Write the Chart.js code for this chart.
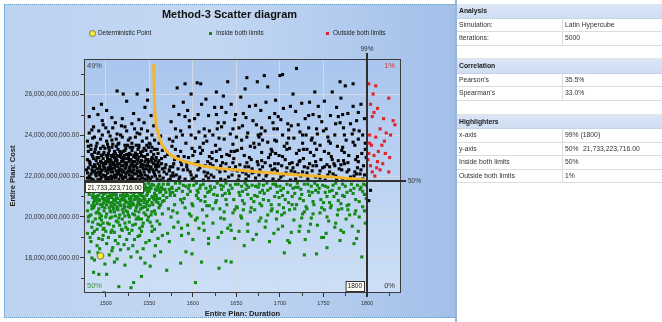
<!DOCTYPE html>
<html><head><meta charset="utf-8">
<script src="https://cdn.jsdelivr.net/npm/chart.js@4.4.1/dist/chart.umd.min.js"></script>
<style>
html,body{margin:0;padding:0;width:662px;height:322px;overflow:hidden;background:#fff;font-family:'Liberation Sans',Arial,sans-serif;}
#panel{position:absolute;left:4px;top:4px;width:451px;height:314px;background:linear-gradient(to right,#bcd2f1 0%,#c4d8f3 45%,#a3c0ea 100%);border-top:1px dotted #5f9fc6;border-left:1px dotted #5f9fc6;border-bottom:1px dotted #5f9fc6;box-sizing:border-box;}
#sep{position:absolute;left:455px;top:0;width:2px;height:322px;background:#9fb4d2;}
#chartBox{position:absolute;left:0;top:0;width:451px;height:322px;}
#title{position:absolute;left:4px;width:451px;top:8px;text-align:center;font-weight:bold;font-size:11px;line-height:13px;color:#111;}
.lt{position:absolute;top:29px;font-size:6.4px;line-height:8px;color:#222;white-space:nowrap;}
.mk{position:absolute;box-sizing:border-box;}
#tbl{position:absolute;left:457px;top:4px;width:205px;}
.row{position:absolute;left:0;width:205px;box-sizing:border-box;border-bottom:1px solid #dcdcdc;font-size:6.8px;color:#333;}
.row.h{background:linear-gradient(#dbe6f6,#cfdef3);font-weight:bold;color:#1b1b1b;border-bottom:1px solid #c5d3e8;}
.row span{position:absolute;top:0;white-space:nowrap;}
.row .c1{left:2px;}
.row .c2{left:108px;}
.row .c3{left:126px;}
.row .dv{position:absolute;left:105px;top:0;bottom:0;width:1px;background:#dcdcdc;}
</style></head>
<body>
<div id="panel"></div>
<div id="sep"></div>
<div id="chartBox"><canvas id="c"></canvas></div>
<div id="title"></div>
<div class="mk" style="left:89px;top:30px;width:7px;height:7px;border-radius:50%;background:#f4ef3c;border:1px solid #7a7a4a;"></div>
<div class="lt" id="lg0" style="left:98px;"></div>
<div class="mk" style="left:209px;top:32px;width:3px;height:3px;background:#138a13;"></div>
<div class="lt" id="lg1" style="left:216px;"></div>
<div class="mk" style="left:326px;top:32px;width:3px;height:3px;background:#e0242a;"></div>
<div class="lt" id="lg2" style="left:333px;"></div>
<div id="tbl"></div>
<script>
// ---------- chart text ----------
const chartTitle = 'Method-3  Scatter diagram';
const legendLabels = ['Deterministic Point', 'Inside both limits', 'Outside both limits'];
const xAxisTitle = 'Entire Plan: Duration';
const yAxisTitle = 'Entire Plan: Cost';

// ---------- axes ----------
const xRange = [1475, 1839];
const yRange = [16.29, 27.71];           // cost, billions
const xTickVals = [1500, 1550, 1600, 1650, 1700, 1750, 1800];
const xMinorTicks = [1525, 1575, 1625, 1675, 1725, 1775, 1825];
const yTickVals = [18, 20, 22, 24, 26];
const yMinorTicks = [17, 19, 21, 23, 25, 27];

// ---------- highlighter limits ----------
const limitX = 1800;                     // 99%
const limitY = 21.733223716;             // 50% (billions)
const limitYLabel = '21,733,223,716.00';
const limitXLabel = '1800';
const quadrantLabels = ['49%', '1%', '50%', '0%'];
const limitPctX = '99%';
const limitPctY = '50%';

// ---------- deterministic point ----------
const deterministicPt = [[1494, 18.1]];

// ---------- highlighter curve ----------
const curvePts = [[1555,27.45],[1555.5,26.5],[1556,25.5],[1557,24.8],[1560,24.1],[1565,23.5],[1574,23.05],[1588,22.75],[1605,22.55],[1625,22.4],[1654,22.28],[1690,22.15],[1730,22.03],[1769,21.92],[1800,21.8]];

// ---------- scatter: outside one limit (black) ----------
const blackPts = [
[1479,21.9],[1483,22.1],[1486,21.8],[1489,22.0],[1492,22.2],[1494,21.85],[1497,22.05],[1499,21.95],[1502,22.15],[1504,21.8],[1506,22.0],[1508,22.2],[1511,21.9],[1513,22.1],[1515,21.85],[1517,22.0],[1519,22.2],[1521,21.95],[1523,22.1],[1525,21.8],[1527,22.05],[1529,22.2],[1531,21.9],[1533,22.1],[1535,21.85],[1537,22.0],[1540,22.15],[1542,21.9],[1545,22.05],[1547,21.8],[1550,22.2],[1553,21.95],[1556,22.1],[1559,21.85],[1562,22.0],[1566,21.9],[1570,22.1],[1574,21.85],[1578,22.0],[1501,21.85],[1510,22.05],[1520,21.8],[1530,22.0],[1538,22.2],[1548,22.0],
[1480,22.4],[1484,22.3],[1487,22.55],[1490,22.35],[1493,22.5],[1495,22.25],[1498,22.45],[1500,22.6],[1503,22.3],[1505,22.5],[1507,22.35],[1509,22.55],[1512,22.25],[1514,22.45],[1516,22.6],[1518,22.3],[1520,22.5],[1522,22.35],[1524,22.55],[1526,22.25],[1528,22.45],[1530,22.6],[1532,22.3],[1534,22.5],[1536,22.4],[1539,22.25],[1541,22.55],[1543,22.35],[1546,22.5],[1549,22.3],[1552,22.45],[1555,22.6],[1558,22.3],[1561,22.5],[1565,22.35],[1569,22.55],[1573,22.3],[1577,22.45],[1488,22.45],[1511,22.5],
[1479,22.8],[1482,22.65],[1485,22.95],[1489,22.75],[1492,22.9],[1495,22.65],[1497,22.85],[1500,22.7],[1502,22.95],[1505,22.8],[1508,22.65],[1510,22.9],[1513,22.75],[1516,22.95],[1518,22.7],[1521,22.85],[1524,22.65],[1526,22.95],[1529,22.8],[1531,22.7],[1534,22.9],[1537,22.75],[1540,22.65],[1543,22.95],[1546,22.8],[1549,22.7],[1553,22.9],[1557,22.75],[1560,22.65],[1564,22.85],[1568,22.95],[1506,22.75],[1519,22.8],[1532,22.95],[1545,22.7],
[1480,23.2],[1484,23.05],[1488,23.3],[1491,23.1],[1494,23.35],[1498,23.15],[1501,23.0],[1504,23.25],[1507,23.4],[1511,23.1],[1514,23.3],[1517,23.05],[1520,23.2],[1523,23.35],[1527,23.1],[1530,23.25],[1533,23.0],[1537,23.3],[1540,23.15],[1544,23.35],[1548,23.05],[1552,23.2],[1556,23.3],[1560,23.1],[1565,23.25],[1503,23.1],[1516,23.2],[1528,23.4],
[1479,23.7],[1483,23.5],[1487,23.9],[1490,23.6],[1494,23.8],[1497,23.45],[1501,23.7],[1505,23.95],[1508,23.55],[1512,23.8],[1515,23.6],[1519,23.9],[1522,23.5],[1526,23.75],[1530,23.6],[1534,23.9],[1538,23.5],[1542,23.7],[1547,23.85],[1551,23.55],[1556,23.75],[1561,23.6],
[1481,24.1],[1486,24.4],[1492,24.2],[1497,24.5],[1503,24.15],[1508,24.35],[1513,24.05],[1518,24.45],[1524,24.2],[1530,24.55],[1536,24.1],[1541,24.3],[1548,24.2],[1555,24.45],
[1481,24.9],[1486,25.3],[1491,25.0],[1495,25.5],[1501,25.2],[1496,24.7],[1513,26.15],[1520,26.0],[1524,25.65],[1536,26.0],[1519,24.8],[1532,25.05],[1538,24.75],[1545,25.35],[1552,24.95],[1507,24.85],[1548,25.7],
[1481,21.98],[1485,22.2],[1491,21.82],[1496,22.3],[1500,22.02],[1503,22.4],[1507,21.88],[1509,22.62],[1512,22.0],[1516,22.35],[1519,21.9],[1522,22.62],[1525,22.18],[1528,21.88],[1532,22.45],[1535,22.12],[1539,21.82],[1541,22.75],[1544,22.2],[1548,22.55],[1551,21.85],[1554,22.3],[1557,22.0],[1560,22.45],[1563,21.8],[1567,22.2],[1482,22.55],[1486,22.85],[1490,22.15],[1494,22.72],[1499,22.38],[1502,22.82],[1506,22.2],[1511,22.75],[1514,22.15],[1518,22.9],[1523,22.42],[1527,22.72],[1531,22.18],[1536,22.82],[1540,22.45],[1545,22.95],[1549,22.48],[1553,22.68],[1497,23.05],[1510,23.2],[1521,23.0],[1534,23.12],[1546,23.25],[1558,22.9],[1489,23.45],[1502,23.55],[1513,23.0],[1525,23.5],[1538,23.4],[1550,23.6],[1493,22.05],[1505,22.6],[1517,22.25],[1529,22.55],
[1478,22.3],[1481,22.72],[1484,21.85],[1487,22.25],[1490,22.9],[1493,22.38],[1495,21.95],[1498,22.62],[1500,22.25],[1503,21.92],[1505,22.35],[1507,22.95],[1510,22.38],[1513,22.6],[1515,22.28],[1518,22.05],[1520,22.72],[1523,21.95],[1526,22.85],[1528,22.3],[1531,22.55],[1533,21.82],[1536,22.25],[1538,22.92],[1541,22.05],[1543,22.55],[1546,22.35],[1549,21.92],[1552,22.8],[1555,22.2],[1558,22.55],[1561,22.2],[1564,22.6],[1568,22.4],[1483,23.3],[1492,23.15],[1499,23.35],[1506,23.0],[1512,23.45],[1518,23.15],[1524,23.05],[1531,23.4],[1536,23.05],[1542,23.2],[1549,23.4],[1555,23.05],[1485,23.85],[1496,24.0],[1507,23.75],[1517,24.0],[1528,23.85],[1539,24.05],[1553,24.0],[1563,23.95],
[1479,22.15],[1482,21.9],[1485,22.45],[1488,22.1],[1491,22.6],[1494,22.15],[1497,22.5],[1500,21.8],[1503,22.7],[1506,22.45],[1509,21.95],[1512,22.85],[1515,22.1],[1518,22.5],[1521,22.2],[1524,22.85],[1527,22.4],[1530,21.85],[1533,22.7],[1536,22.6],[1539,22.0],[1542,22.45],[1545,21.85],[1548,22.8],[1551,22.35],[1554,22.85],[1557,22.45],[1561,22.75],[1480,23.45],[1487,23.15],[1495,23.0],[1503,23.4],[1509,23.05],[1514,23.55],[1522,23.25],[1529,23.05],[1535,23.5],[1541,23.0],[1547,23.5],[1553,23.4],[1559,23.3],[1484,24.25],[1500,24.35],[1511,24.6],[1522,24.4],[1533,24.3],[1544,24.6],
[1572,21.8],[1585,21.95],[1577,22.15],[1589,22.3],[1574,22.45],[1581,22.05],[1587,22.55],[1579,22.8],[1571,23.05],[1586,23.2],[1576,23.45],[1583,22.95],[1573,23.8],[1588,24.0],[1580,24.3],[1575,24.65],[1584,25.0],[1578,25.4],[1582,26.3],[1586,24.2],
[1591,21.85],[1604,22.0],[1597,22.2],[1608,22.4],[1593,22.6],[1601,21.9],[1606,22.7],[1595,22.9],[1609,23.1],[1599,23.35],[1592,23.6],[1603,23.85],[1607,24.15],[1596,24.4],[1602,24.8],[1594,25.2],[1610,25.5],[1598,26.0],[1605,26.55],[1600,23.0],
[1612,21.8],[1624,21.95],[1617,22.15],[1628,22.35],[1614,22.5],[1621,22.05],[1627,22.75],[1619,22.95],[1611,23.25],[1626,23.5],[1616,23.7],[1623,24.0],[1613,24.3],[1629,24.6],[1618,24.95],[1625,25.35],[1615,25.75],[1622,23.15],[1620,22.6],[1627,26.1],
[1632,21.85],[1645,22.05],[1637,22.25],[1649,22.45],[1634,22.65],[1641,21.95],[1647,22.85],[1639,23.05],[1631,23.3],[1646,23.55],[1636,23.8],[1643,24.05],[1633,24.4],[1648,24.75],[1638,25.1],[1644,25.5],[1635,25.9],[1640,26.6],[1642,22.4],[1650,23.9],
[1652,21.8],[1664,22.0],[1657,22.2],[1668,22.35],[1654,22.55],[1661,22.1],[1667,22.8],[1659,23.0],[1651,23.25],[1666,23.45],[1656,23.75],[1663,24.1],[1653,24.35],[1669,24.7],[1658,25.05],[1665,25.4],[1655,25.85],[1660,26.25],[1662,22.65],[1670,23.6],
[1672,21.9],[1685,22.1],[1677,22.3],[1689,22.5],[1674,22.7],[1681,21.8],[1687,22.9],[1679,23.15],[1671,23.4],[1686,23.65],[1676,23.9],[1683,24.2],[1673,24.5],[1688,24.85],[1678,25.2],[1684,25.6],[1686,26.35],[1680,22.45],[1675,24.0],[1690,23.3],
[1692,21.85],[1704,22.05],[1697,22.25],[1708,22.4],[1694,22.6],[1701,21.95],[1706,22.8],[1699,23.0],[1691,23.2],[1705,23.45],[1696,23.7],[1703,24.0],[1693,24.3],[1709,24.55],[1698,24.9],[1704,25.3],[1695,25.7],[1700,26.9],[1702,22.5],[1710,23.85],
[1712,21.8],[1724,22.0],[1717,22.2],[1728,22.45],[1714,22.65],[1721,22.1],[1727,22.85],[1719,23.1],[1711,23.35],[1726,23.6],[1716,23.85],[1723,24.15],[1713,24.45],[1729,24.8],[1718,25.15],[1725,25.55],[1715,26.0],[1720,22.55],[1722,23.25],[1730,24.0],
[1732,21.85],[1745,22.05],[1737,22.25],[1749,22.4],[1734,22.6],[1741,21.95],[1747,22.8],[1739,23.0],[1731,23.3],[1746,23.5],[1736,23.75],[1743,24.05],[1733,24.35],[1748,24.65],[1738,25.0],[1744,25.4],[1740,26.1],[1742,22.5],[1735,23.15],[1750,24.2],
[1752,21.8],[1764,22.0],[1757,22.2],[1768,22.35],[1754,22.55],[1761,22.1],[1767,22.75],[1759,22.95],[1751,23.2],[1766,23.45],[1756,23.7],[1763,24.0],[1753,24.3],[1769,24.6],[1758,24.95],[1765,25.35],[1760,26.1],[1762,22.6],[1755,23.9],[1770,25.8],
[1772,21.85],[1785,22.0],[1777,22.2],[1789,22.4],[1774,22.6],[1781,21.95],[1787,22.8],[1779,23.0],[1771,23.25],[1786,23.5],[1776,23.75],[1783,24.05],[1773,24.35],[1788,24.7],[1778,25.05],[1784,25.4],[1775,26.4],[1792,22.1],[1796,22.5],[1794,23.1],[1798,23.6],[1791,24.2],[1797,24.8],[1793,25.5],[1799,22.9],[1795,21.85],
[1575,22.0],[1583,22.35],[1593,22.45],[1598,22.05],[1606,22.3],[1615,22.0],[1623,22.5],[1631,22.2],[1638,22.6],[1646,22.3],[1653,22.0],[1660,22.45],[1668,22.15],[1676,22.05],[1683,22.65],[1691,22.3],[1698,22.6],[1707,22.15],[1715,22.4],[1723,22.75],[1731,22.15],[1738,22.5],[1746,22.25],[1755,22.05],[1763,22.5],[1771,22.3],[1778,22.65],[1786,22.2],[1790,22.7],[1797,22.05],[1580,23.3],[1612,23.6],[1644,23.2],[1676,23.55],[1708,23.3],[1740,23.6],[1772,23.4],[1795,24.0],[1628,24.3],[1692,24.6],
[1573,22.25],[1578,22.6],[1584,21.85],[1590,22.95],[1594,22.3],[1599,21.85],[1603,22.6],[1608,23.4],[1613,22.2],[1618,21.9],[1622,22.85],[1627,23.2],[1632,22.5],[1637,21.8],[1642,23.0],[1646,22.65],[1651,22.25],[1656,23.35],[1661,21.85],[1665,22.9],[1670,22.2],[1675,22.55],[1680,23.75],[1684,22.0],[1689,23.05],[1694,22.35],[1699,21.8],[1703,22.95],[1708,23.6],[1713,22.25],[1718,21.85],[1722,22.7],[1727,23.3],[1732,22.4],[1737,23.85],[1741,22.7],[1746,21.9],[1751,22.45],[1756,23.1],[1760,22.8],[1765,21.85],[1770,22.55],[1774,23.15],[1779,22.3],[1784,23.65],[1789,22.95],[1793,22.3],[1798,23.3],[1577,23.7],[1596,24.7],[1619,24.2],[1636,24.6],[1657,24.45],[1679,24.35],[1701,24.75],[1721,24.5],[1745,24.9],[1764,24.55],[1781,24.55],[1589,25.6],[1633,25.35],[1672,25.45],[1712,25.4],[1751,25.65],[1790,25.1],[1606,25.0],[1649,25.0],[1694,25.05],[1734,25.6],[1772,25.0],
[1586,22.7],[1602,23.2],[1617,22.7],[1633,22.95],[1648,23.2],[1664,22.45],[1679,22.75],[1695,23.1],[1711,22.6],[1726,22.2],[1742,23.3],[1757,22.45],[1773,22.75],[1788,22.1],[1581,23.9],[1598,24.0],[1614,23.95],[1630,23.85],[1646,24.3],[1662,23.9],[1678,24.05],[1694,23.75],[1710,24.25],[1726,24.0],[1742,24.3],[1758,23.6],[1774,24.0],[1790,23.8],[1591,24.9],[1627,25.0],[1661,24.85],[1697,24.3],[1733,24.95],[1767,24.9],[1785,24.25],
[1591,26.5],[1609,26.5],[1662,26.8],[1682,26.9],[1703,26.95],[1719,27.25],[1769,26.6],[1784,26.5],[1674,26.6],[1548,26.2],
[1804,21.3],[1802,20.8]
];

// ---------- scatter: inside both limits (green) ----------
const greenPts = [
[1480,21.5],[1484,21.35],[1487,21.65],[1490,21.45],[1493,21.6],[1496,21.3],[1498,21.55],[1501,21.4],[1503,21.65],[1506,21.35],[1508,21.5],[1511,21.6],[1513,21.3],[1516,21.45],[1518,21.65],[1521,21.4],[1523,21.55],[1526,21.3],[1528,21.6],[1531,21.45],[1533,21.65],[1536,21.35],[1538,21.5],[1541,21.6],[1543,21.3],[1546,21.45],[1549,21.65],[1552,21.4],[1555,21.55],[1558,21.3],[1561,21.6],[1564,21.45],[1568,21.35],[1572,21.6],[1576,21.4],[1500,21.5],[1515,21.55],[1530,21.35],[1545,21.6],[1560,21.5],
[1481,21.1],[1485,20.95],[1488,21.25],[1491,21.05],[1494,21.2],[1497,20.9],[1499,21.15],[1502,21.0],[1504,21.25],[1507,20.95],[1509,21.1],[1512,21.2],[1514,20.9],[1517,21.05],[1519,21.25],[1522,21.0],[1524,21.15],[1527,20.9],[1529,21.2],[1532,21.05],[1534,21.25],[1537,20.95],[1539,21.1],[1542,21.2],[1544,20.9],[1547,21.05],[1550,21.25],[1553,21.0],[1556,21.15],[1559,20.9],[1562,21.2],[1566,21.05],[1570,20.95],[1574,21.2],[1505,21.1],[1520,21.1],[1535,21.0],[1548,21.15],[1490,20.95],[1525,21.25],
[1480,20.7],[1484,20.55],[1487,20.85],[1490,20.65],[1493,20.8],[1496,20.5],[1498,20.75],[1501,20.6],[1503,20.85],[1506,20.55],[1508,20.7],[1511,20.8],[1513,20.5],[1516,20.65],[1518,20.85],[1521,20.6],[1523,20.75],[1526,20.5],[1528,20.8],[1531,20.65],[1533,20.85],[1536,20.55],[1538,20.7],[1541,20.8],[1544,20.5],[1547,20.65],[1550,20.85],[1554,20.6],[1558,20.75],[1562,20.55],[1567,20.8],[1510,20.6],[1525,20.7],[1540,20.6],[1500,20.8],[1555,20.9],
[1479,20.3],[1483,20.1],[1486,20.45],[1489,20.2],[1492,20.4],[1495,20.05],[1498,20.3],[1501,20.15],[1504,20.45],[1507,20.0],[1510,20.25],[1513,20.4],[1516,20.1],[1519,20.35],[1522,20.05],[1525,20.25],[1528,20.45],[1531,20.15],[1534,20.3],[1537,20.0],[1540,20.4],[1544,20.2],[1548,20.35],[1552,20.1],[1556,20.3],[1561,20.45],[1565,20.15],[1505,20.3],[1520,20.2],[1535,20.45],
[1480,19.8],[1484,19.5],[1488,19.9],[1491,19.65],[1495,19.85],[1498,19.45],[1502,19.7],[1505,19.95],[1509,19.55],[1512,19.8],[1516,19.6],[1519,19.9],[1523,19.5],[1527,19.75],[1531,19.6],[1535,19.9],[1539,19.45],[1543,19.7],[1548,19.85],[1553,19.55],[1559,19.8],[1494,19.6],
[1479,19.2],[1483,18.8],[1487,19.3],[1492,18.95],[1497,19.1],[1501,18.7],[1506,19.25],[1511,18.85],[1516,19.05],[1521,18.65],[1527,19.2],[1533,18.9],[1539,19.1],[1546,18.75],[1553,19.3],[1560,18.95],
[1481,18.3],[1487,17.9],[1493,18.45],[1499,17.7],[1504,18.15],[1510,17.8],[1517,18.4],[1522,17.65],[1529,18.05],[1536,18.3],[1545,17.75],[1556,18.1],
[1501,17.2],[1515,16.6],[1529,16.55],[1532,16.8],[1541,17.1],[1603,16.8],[1486,17.3],[1498,16.3],[1492,17.2],
[1610,17.8],[1630,17.5],[1638,17.85],[1644,17.8],[1705,18.25],[1728,18.15],[1742,18.2],[1754,18.5],[1794,18.05],[1592,18.3],[1599,18.2],[1586,17.75],[1570,17.4],
[1482,21.6],[1486,21.2],[1489,21.55],[1492,20.85],[1495,21.45],[1497,21.1],[1500,21.65],[1502,20.75],[1505,21.4],[1507,21.05],[1510,21.6],[1512,20.9],[1515,21.25],[1517,20.55],[1520,21.5],[1522,20.8],[1525,21.05],[1527,21.6],[1530,20.7],[1532,21.35],[1535,21.55],[1537,20.8],[1540,21.15],[1542,20.45],[1545,21.4],[1548,20.75],[1551,21.5],[1554,20.95],[1557,21.35],[1560,20.7],[1563,21.25],[1566,21.6],[1484,20.4],[1491,20.25],[1499,20.45],[1506,20.25],[1514,20.35],[1523,20.3],[1529,20.55],[1538,20.25],[1546,20.5],[1553,20.25],[1496,20.95],[1509,20.85],[1519,20.95],[1534,20.9],[1543,21.0],[1558,21.05],[1488,21.0],[1503,21.3],
[1479,21.25],[1483,21.65],[1486,20.7],[1489,21.35],[1492,21.05],[1494,20.6],[1497,21.45],[1499,20.9],[1502,21.5],[1504,20.95],[1507,21.6],[1509,20.4],[1512,21.05],[1514,21.6],[1517,20.8],[1519,21.35],[1522,20.5],[1524,21.4],[1527,20.65],[1529,21.0],[1532,20.6],[1534,21.5],[1537,21.2],[1539,20.85],[1542,21.45],[1544,20.7],[1547,21.3],[1550,20.55],[1553,21.6],[1556,20.85],[1559,21.45],[1562,20.9],[1565,21.35],[1569,21.2],[1481,20.05],[1487,20.55],[1493,20.15],[1500,20.0],[1508,20.5],[1515,19.95],[1521,20.45],[1527,20.0],[1533,20.1],[1541,19.9],[1549,20.0],[1557,20.15],[1563,20.6],[1485,19.2],[1497,19.4],[1510,19.25],[1525,19.4],[1541,19.3],
[1480,20.0],[1485,19.75],[1490,19.4],[1493,19.95],[1497,19.7],[1500,19.3],[1504,19.65],[1507,19.35],[1511,20.05],[1514,19.75],[1518,19.4],[1522,19.7],[1526,20.1],[1530,19.35],[1534,19.65],[1538,19.9],[1542,19.55],[1546,20.1],[1551,19.75],[1556,19.4],[1562,19.65],[1482,19.0],[1490,18.6],[1496,18.9],[1503,19.0],[1508,18.5],[1514,18.7],[1519,19.35],[1524,18.9],[1531,18.6],[1537,19.05],[1543,18.45],[1550,18.85],[1557,18.6],[1565,19.1],[1484,18.0],[1491,18.25],[1507,18.35],[1513,17.95],[1526,18.45],[1540,18.0],[1551,17.6],[1563,18.3],[1571,19.2],
[1481,21.4],[1485,21.05],[1489,20.8],[1493,21.3],[1497,20.65],[1501,21.2],[1505,20.7],[1509,21.3],[1513,20.7],[1517,21.55],[1521,20.85],[1525,21.55],[1529,20.85],[1533,21.2],[1537,20.65],[1541,21.05],[1545,20.85],[1549,21.4],[1553,20.7],[1557,21.05],[1561,21.35],[1565,20.75],
[1571,21.6],[1584,21.4],[1577,21.2],[1589,21.55],[1574,21.05],[1581,21.3],[1586,20.85],[1579,20.6],[1572,20.4],[1588,20.7],[1575,20.0],[1583,19.75],[1578,19.5],[1587,19.1],[1573,18.8],[1580,21.65],
[1592,21.5],[1604,21.65],[1597,21.25],[1608,21.4],[1594,21.1],[1601,21.55],[1606,20.9],[1599,20.65],[1591,20.45],[1609,20.8],[1596,20.15],[1603,19.85],[1607,19.45],[1595,19.2],[1600,18.9],[1605,21.3],
[1612,21.6],[1625,21.45],[1617,21.2],[1628,21.65],[1614,21.0],[1621,21.35],[1627,20.8],[1619,20.55],[1611,20.35],[1626,20.7],[1616,20.05],[1623,19.7],[1613,19.35],[1629,19.0],[1618,18.7],[1620,21.5],
[1632,21.55],[1645,21.4],[1637,21.15],[1649,21.6],[1634,21.05],[1641,21.3],[1647,20.85],[1639,20.6],[1631,20.4],[1646,20.2],[1636,19.9],[1643,19.6],[1633,19.25],[1648,18.95],[1638,21.65],[1650,20.5],
[1652,21.6],[1664,21.45],[1657,21.25],[1668,21.55],[1654,21.05],[1661,21.35],[1667,20.9],[1659,20.65],[1651,20.45],[1666,20.25],[1656,19.95],[1663,19.65],[1653,19.3],[1669,18.9],[1660,21.65],[1670,20.75],
[1672,21.5],[1685,21.65],[1677,21.2],[1689,21.4],[1674,21.0],[1681,21.55],[1687,20.8],[1679,20.55],[1671,20.35],[1686,20.1],[1676,19.8],[1683,19.5],[1673,19.15],[1688,18.8],[1680,21.3],[1690,20.6],
[1692,21.6],[1704,21.4],[1697,21.2],[1708,21.6],[1694,21.0],[1701,21.3],[1706,20.85],[1699,20.6],[1691,20.4],[1705,20.2],[1696,19.9],[1703,19.55],[1693,19.2],[1709,18.85],[1700,21.5],[1710,20.7],
[1712,21.55],[1724,21.35],[1717,21.15],[1728,21.6],[1714,21.0],[1721,21.45],[1727,20.8],[1719,20.6],[1711,20.35],[1726,20.15],[1716,19.85],[1723,19.55],[1713,19.25],[1729,18.9],[1720,21.65],[1730,20.5],
[1732,21.6],[1745,21.4],[1737,21.2],[1749,21.55],[1734,21.05],[1741,21.3],[1747,20.85],[1739,20.6],[1731,20.4],[1746,20.2],[1736,19.95],[1743,19.6],[1733,19.3],[1748,19.0],[1740,21.65],[1750,20.7],
[1752,21.5],[1764,21.65],[1757,21.25],[1768,21.4],[1754,21.0],[1761,21.55],[1767,20.8],[1759,20.55],[1751,20.35],[1766,20.1],[1756,19.8],[1763,19.5],[1753,19.2],[1769,18.85],[1760,21.3],[1770,20.65],
[1772,21.6],[1785,21.4],[1777,21.2],[1789,21.55],[1774,21.0],[1781,21.3],[1787,20.85],[1779,20.6],[1771,20.4],[1786,20.15],[1776,19.9],[1783,19.55],[1773,19.25],[1788,18.95],[1793,21.45],[1797,21.1],[1795,20.5],[1791,20.0],[1798,19.7],[1796,21.6],
[1576,21.45],[1588,21.25],[1596,21.55],[1606,21.2],[1615,21.4],[1624,21.1],[1635,21.5],[1642,21.15],[1656,21.5],[1663,21.1],[1675,21.45],[1682,21.15],[1696,21.5],[1703,21.05],[1715,21.4],[1725,21.1],[1736,21.5],[1744,21.2],[1755,21.45],[1765,21.15],[1775,21.5],[1784,21.15],[1792,21.35],[1799,21.55],
[1573,21.35],[1579,21.05],[1585,21.65],[1590,20.9],[1595,21.4],[1600,20.55],[1604,21.05],[1609,21.55],[1614,20.75],[1619,21.25],[1623,20.4],[1628,21.05],[1633,21.35],[1638,20.85],[1643,21.55],[1648,20.35],[1653,21.2],[1657,20.8],[1662,21.55],[1667,20.45],[1671,21.05],[1676,21.6],[1681,20.85],[1686,21.3],[1690,20.3],[1695,21.6],[1699,20.95],[1704,20.45],[1709,21.2],[1714,20.6],[1718,21.45],[1723,20.9],[1728,20.25],[1733,21.25],[1738,20.75],[1743,21.55],[1748,20.45],[1752,21.2],[1757,20.7],[1762,21.0],[1767,20.35],[1772,21.05],[1777,20.55],[1782,21.6],[1787,20.3],[1791,20.75],[1795,21.25],[1799,20.9],[1582,20.2],[1605,19.95],[1632,19.95],[1655,20.05],[1678,19.95],[1702,20.1],[1725,19.95],[1754,20.0],[1780,20.1],[1594,19.6],[1644,19.35],[1684,19.8],[1722,19.3],[1764,19.7],[1790,19.3],
[1577,20.3],[1598,20.05],[1616,20.55],[1636,20.25],[1658,20.35],[1677,20.65],[1697,20.25],[1717,20.4],[1738,20.15],[1758,20.45],[1778,20.35],[1797,20.3],[1587,19.45],[1612,19.7],[1640,19.45],[1663,19.3],[1698,19.4],[1735,19.65],[1770,19.35],[1618,18.95],[1659,18.6],[1711,18.75],[1750,19.0],[1785,18.7]
];

// ---------- scatter: outside both limits (red) ----------
const redPts = [
[1802,26.5],[1810,26.4],[1825,25.8],[1812,25.3],[1808,25.1],[1830,24.7],[1832,24.5],[1806,24.9],[1815,24.3],[1822,24.1],[1803,24.0],[1810,23.9],[1820,23.7],[1817,23.5],[1805,23.5],[1813,23.2],[1802,23.1],[1808,23.0],[1826,22.9],[1812,22.7],[1818,22.6],[1804,22.5],[1815,22.3],[1806,22.2],[1809,22.0],[1825,22.2],[1801,22.8],[1803,23.6],[1819,24.8],[1827,24.0],[1807,26.0],[1804,25.5],[1811,22.4],[1821,23.1]
];

// ---------- statistics table ----------
const tableRows = [
  ['h','Analysis'],
  ['r','Simulation:','Latin Hypercube'],
  ['r','Iterations:','5000'],
  ['b'],
  ['h','Correlation'],
  ['r',"Pearson's",'35.5%'],
  ['r',"Spearman's",'33.0%'],
  ['b'],
  ['h','Highlighters'],
  ['r','x-axis','99% (1800)'],
  ['r','y-axis','50%','21,733,223,716.00'],
  ['r','Inside both limits','50%'],
  ['r','Outside both limits','1%']
];

// ---------- HTML parts ----------
document.getElementById('title').textContent = chartTitle;
legendLabels.forEach((t,i)=>{ document.getElementById('lg'+i).textContent = t; });
(function(){
  const tbl = document.getElementById('tbl');
  let y = 0;
  tableRows.forEach(r=>{
    const d = document.createElement('div');
    const h = r[0]==='h' ? 14.5 : 13.6;
    d.className = 'row' + (r[0]==='h' ? ' h' : '');
    d.style.top = y + 'px'; d.style.height = h + 'px'; d.style.lineHeight = (h-1) + 'px';
    if (r[0]==='b') d.style.borderBottom = '1px solid #e4e4e4';
    if (r[0]!=='b') {
      const s1 = document.createElement('span'); s1.className='c1'; s1.textContent = r[1]; d.appendChild(s1);
      if (r[0]==='r') {
        const dv = document.createElement('div'); dv.className='dv'; d.appendChild(dv);
        const s2 = document.createElement('span'); s2.className='c2'; s2.textContent = r[2]; d.appendChild(s2);
        if (r[3]) { const s3 = document.createElement('span'); s3.className='c3'; s3.textContent = r[3]; d.appendChild(s3); }
      }
    }
    tbl.appendChild(d);
    y += h;
  });
})();

// ---------- chart ----------
const F = "'Liberation Sans', Arial, sans-serif";
const toXY = a => a.map(p => ({x:p[0], y:p[1]}));

const decor = {
  id: 'decor',
  beforeDraw(chart) {
    const {ctx, chartArea:a} = chart;
    const g = ctx.createLinearGradient(0, a.top, 0, a.bottom);
    g.addColorStop(0, '#aac6ee');
    g.addColorStop(1, '#cddff6');
    ctx.save(); ctx.fillStyle = g; ctx.fillRect(a.left, a.top, a.right-a.left, a.bottom-a.top); ctx.restore();
  },
  afterDatasetsDraw(chart) {
    const {ctx, chartArea:a, scales:{x, y}} = chart;
    ctx.save();
    ctx.strokeStyle = '#3c3c3c'; ctx.lineWidth = 1;
    ctx.strokeRect(a.left+0.5, a.top+0.5, a.right-a.left-1, a.bottom-a.top-1);
    ctx.beginPath();
    xMinorTicks.forEach(v=>{ const px = Math.round(x.getPixelForValue(v))+0.5; ctx.moveTo(px, a.bottom); ctx.lineTo(px, a.bottom+3); });
    yMinorTicks.forEach(v=>{ const py = Math.round(y.getPixelForValue(v))+0.5; ctx.moveTo(a.left, py); ctx.lineTo(a.left-3, py); });
    ctx.stroke();
    const vx = Math.round(x.getPixelForValue(limitX));
    const hy = Math.round(y.getPixelForValue(limitY));
    ctx.strokeStyle = '#2e2e2e'; ctx.lineWidth = 2;
    ctx.beginPath(); ctx.moveTo(vx, a.top-6); ctx.lineTo(vx, a.bottom+4); ctx.stroke();
    ctx.beginPath(); ctx.moveTo(a.left, hy); ctx.lineTo(a.right+5, hy); ctx.stroke();
    ctx.textBaseline = 'middle';
    ctx.font = '6.5px ' + F; ctx.fillStyle = '#333';
    ctx.textAlign = 'center'; ctx.fillText(limitPctX, vx, a.top-10);
    ctx.textAlign = 'left'; ctx.fillText(limitPctY, a.right+7, hy+0.5);
    ctx.font = '7.5px ' + F;
    ctx.fillStyle = '#444'; ctx.textAlign = 'left'; ctx.fillText(quadrantLabels[0], a.left+3, a.top+7);
    ctx.fillStyle = '#d23a3a'; ctx.textAlign = 'right'; ctx.fillText(quadrantLabels[1], a.right-6, a.top+7);
    ctx.fillStyle = '#3f933f'; ctx.textAlign = 'left'; ctx.fillText(quadrantLabels[2], a.left+3, a.bottom-7);
    ctx.fillStyle = '#333'; ctx.textAlign = 'right'; ctx.fillText(quadrantLabels[3], a.right-6, a.bottom-7);
    ctx.font = '6.5px ' + F;
    let w = ctx.measureText(limitYLabel).width + 4;
    ctx.fillStyle = '#fffef4'; ctx.fillRect(a.left+1, hy+1, w, 10);
    ctx.strokeStyle = '#333'; ctx.lineWidth = 1; ctx.strokeRect(a.left+1.5, hy+1.5, w, 10);
    ctx.fillStyle = '#111'; ctx.textAlign = 'left'; ctx.fillText(limitYLabel, a.left+3.5, hy+7);
    w = ctx.measureText(limitXLabel).width + 4;
    ctx.fillStyle = '#fffef4'; ctx.fillRect(vx-3-w, a.bottom-12, w, 10);
    ctx.strokeRect(vx-3-w+0.5, a.bottom-11.5, w, 10);
    ctx.fillStyle = '#111'; ctx.fillText(limitXLabel, vx-1-w, a.bottom-6.5);
    ctx.restore();
  }
};

new Chart(document.getElementById('c'), {
  type: 'scatter',
  data: {
    datasets: [
      { label: legendLabels[0], data: toXY(deterministicPt), pointRadius: 3.3, pointBackgroundColor: '#f4ef3c', pointBorderColor: '#7a7a4a', pointBorderWidth: 1, order: 0 },
      { label: 'curve', data: toXY(curvePts), showLine: true, pointRadius: 0, borderColor: '#f3b52c', borderWidth: 3, cubicInterpolationMode: 'monotone', order: 1 },
      { label: legendLabels[2], data: toXY(redPts), pointStyle: 'rect', pointRadius: 2.2, pointBackgroundColor: '#e0242a', pointBorderWidth: 0, order: 2 },
      { label: legendLabels[1], data: toXY(greenPts), pointStyle: 'rect', pointRadius: 2.2, pointBackgroundColor: '#138a13', pointBorderWidth: 0, order: 3 },
      { label: 'Outside one limit', data: toXY(blackPts), pointStyle: 'rect', pointRadius: 2.2, pointBackgroundColor: '#050505', pointBorderWidth: 0, order: 4 }
    ]
  },
  options: {
    responsive: true, maintainAspectRatio: false, animation: false,
    layout: { padding: { left: 0, top: 59, right: 50, bottom: 0 } },
    plugins: { legend: { display: false }, tooltip: { enabled: false } },
    scales: {
      x: {
        type: 'linear', min: xRange[0], max: xRange[1],
        afterBuildTicks: s => { s.ticks = xTickVals.map(v => ({value: v})); },
        afterFit: s => { s.height = 29; },
        border: { display: false },
        grid: { color: '#d3dae4', tickColor: '#333', tickLength: 4, lineWidth: 1 },
        ticks: { font: { size: 5.5, family: F }, color: '#333', padding: 3, maxRotation: 0, autoSkip: false, callback: v => String(v) },
        title: { display: true, text: xAxisTitle, font: { size: 7.6, weight: 'bold', family: F }, color: '#222', padding: { top: 0, bottom: 4 } }
      },
      y: {
        type: 'linear', min: yRange[0], max: yRange[1],
        afterBuildTicks: s => { s.ticks = yTickVals.map(v => ({value: v})); },
        afterFit: s => { s.width = 84; },
        border: { display: false },
        grid: { color: '#d3dae4', tickColor: '#333', tickLength: 4, lineWidth: 1 },
        ticks: { font: { size: 6.5, family: F }, color: '#333', padding: 1, autoSkip: false,
                 callback: v => (v * 1e9).toLocaleString('en-US', { minimumFractionDigits: 2, maximumFractionDigits: 2 }) },
        title: { display: true, text: yAxisTitle, font: { size: 7.6, weight: 'bold', family: F }, color: '#222', padding: { top: 8, bottom: 0 } }
      }
    }
  },
  plugins: [decor]
});
</script>
</body></html>
